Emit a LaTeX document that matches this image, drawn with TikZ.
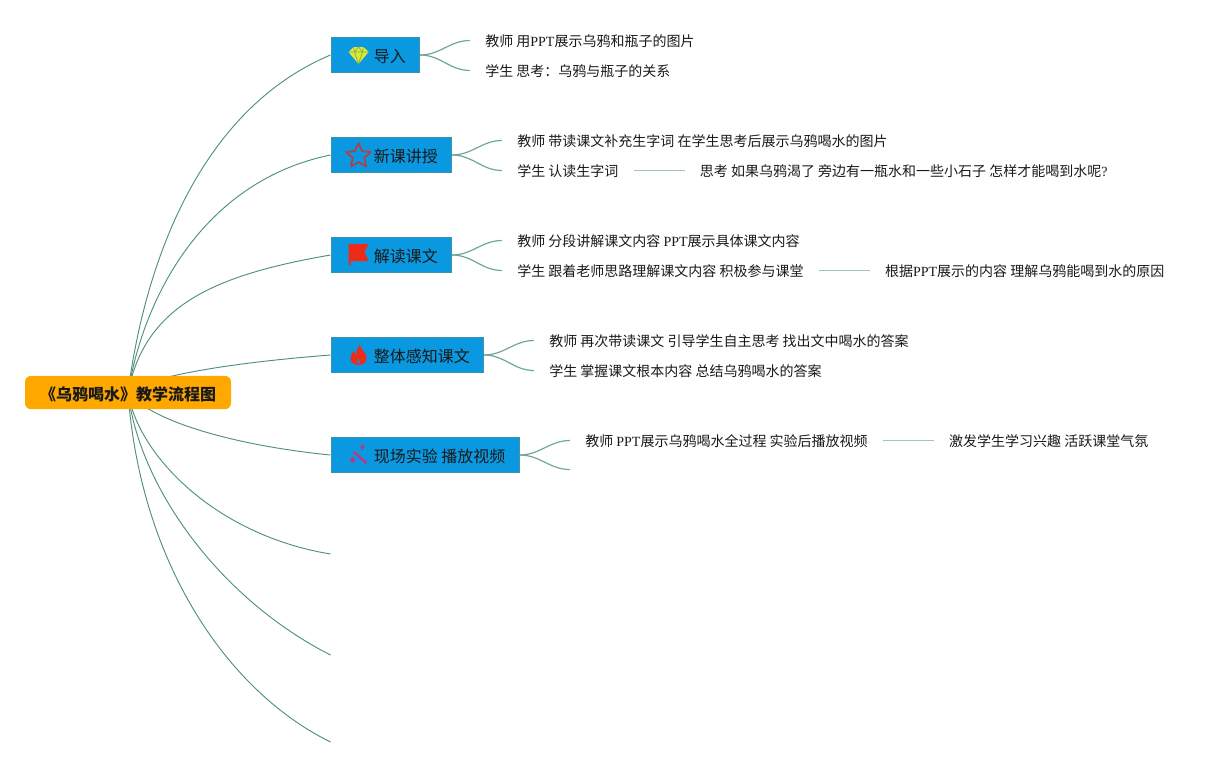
\documentclass[tikz,border=0pt]{standalone}
\usepackage{fontspec}
\setmainfont{Noto Sans CJK SC}
\newfontfamily\latinfont{Liberation Serif}
\newcommand{\ppt}{{\latinfont PPT}}
\usepackage{tikz}
\usetikzlibrary{positioning, backgrounds}
\definecolor{topicblue}{HTML}{0A98E0}
\definecolor{topicedge}{HTML}{3F93A8}
\definecolor{rootorange}{HTML}{FFA800}
\definecolor{linegreen}{HTML}{4F8F80}
\definecolor{branchgreen}{HTML}{6FA898}
\definecolor{linkgreen}{HTML}{9FC4BA}
\definecolor{gemyellow}{HTML}{DDE83A}
\definecolor{gemgreen}{HTML}{7FB04A}
\definecolor{starred}{HTML}{B0404A}
\definecolor{flagred}{HTML}{F02A18}
\definecolor{wandpink}{HTML}{C0357F}
\tikzset{
		root/.style={fill=rootorange,rounded corners=4.5pt,minimum width=154.5pt,minimum height=25pt,inner sep=0pt,text height=12.5pt,text depth=1pt,font=\fontsize{12}{14}\selectfont\bfseries,text=black!90},
		topic/.style={draw=topicedge,line width=0.6pt,fill=topicblue,anchor=west,minimum height=26.3pt,inner ysep=0pt,inner xsep=10.4pt,text height=12pt,text depth=1.2pt,font=\fontsize{12}{14}\selectfont,text=black!90,execute at begin node=\hspace{21.8pt}},
		leaf/.style={anchor=west,inner xsep=11.25pt,inner ysep=0pt,text height=10pt,text depth=1.5pt,font=\fontsize{10.5}{12}\selectfont,text=black!90},
		trunk/.style={draw=linegreen,line width=0.7pt},
		branch/.style={draw=branchgreen,line width=0.9pt},
		link/.style={draw=linkgreen,line width=0.8pt},
		gem icon/.pic={
			\fill[gemyellow] (-5,-8) -- (5,-8) -- (10,-3) -- (0,9) -- (-10,-3) -- cycle;
			\draw[gemgreen,line width=0.5pt] (-10,-3) -- (10,-3) (-5,-8) -- (-4,-3) -- (0,9) -- (4,-3) -- (5,-8) (-4,-3) -- (0,-8) -- (4,-3);
		},
		star icon/.pic={
			\draw[starred,line width=1.3pt,line join=round] (-90:13) -- (-54:6) -- (-18:13) -- (18:6) -- (54:13) -- (90:6) -- (126:13) -- (162:6) -- (198:13) -- (234:6) -- cycle;
		},
		flag icon/.pic={
			\fill[flagred] (-10,-11) -- (10,-11) -- (6,-3) -- (10,6) -- (-8,6) -- (-8,10) -- (-10,10) -- cycle;
		},
		flame icon/.pic={
			\fill[flagred] (1,-10) .. controls (2,-5) and (8,-3) .. (8,3) .. controls (8,8) and (4,10) .. (0,10) .. controls (-5,10) and (-8,7) .. (-8,3) .. controls (-8,0) and (-6,-2) .. (-5,-4) .. controls (-4,-2) and (-3,-1) .. (-2,-1) .. controls (-2,-5) and (-1,-8) .. (1,-10) -- cycle;
			\fill[topicblue!50!flagred] (0,3) .. controls (1,5) and (3,6) .. (2,9) -- (-2,9) .. controls (-3,6) and (-1,5) .. (0,3) -- cycle;
		},
		wand icon/.pic={
			\draw[wandpink,line width=1.8pt] (-5,-3) -- (8,8);
			\fill[wandpink] (4,-11) -- (6,-8) -- (4,-5) -- (2,-8) -- cycle;
			\fill[wandpink] (-6,2) -- (-3,5) -- (-6,8) -- (-9,5) -- cycle;
		}
	}

\begin{document}
\begin{tikzpicture}[x=0.75pt,y=-0.75pt]
	\useasboundingbox (0,0) rectangle (1224,768);

	\node[root] (flow) at (128,392.5) {《乌鸦喝水》教学流程图};

	\node[topic] (intro)   at (330.5,55)  {导入};
	\node[topic] (newtext) at (330.5,155) {新课讲授};
	\node[topic] (reading) at (330.5,255) {解读课文};
	\node[topic] (whole)   at (330.5,355) {整体感知课文};
	\node[topic] (trial)   at (330.5,455) {现场实验 播放视频};

	\pic at (358.5,55)  {gem icon};
	\pic at (358.5,156) {star icon};
	\pic at (358.5,255) {flag icon};
	\pic at (358.5,355) {flame icon};
	\pic at (358.5,455) {wand icon};

	\coordinate (free1) at (330.5,554);
	\coordinate (free2) at (330.5,655);
	\coordinate (free3) at (330.5,742);
	\coordinate (free4) at (570,469.5);

	\node[leaf] (intro1) at (470,40.5) {教师 用\ppt 展示乌鸦和瓶子的图片};
	\node[leaf] (intro2) at (470,70.5) {学生 思考：乌鸦与瓶子的关系};

	\node[leaf] (newtext1) at (502,140.5) {教师 带读课文补充生字词 在学生思考后展示乌鸦喝水的图片};
	\node[leaf] (newtext2) at (502,170.5) {学生 认读生字词};
	\node[leaf] (newtext3) [right=38.25pt of newtext2] {思考 如果乌鸦渴了 旁边有一瓶水和一些小石子 怎样才能喝到水呢{\latinfont ?}};

	\node[leaf] (reading1) at (502,240.5) {教师 分段讲解课文内容 \ppt 展示具体课文内容};
	\node[leaf] (reading2) at (502,270.5) {学生 跟着老师思路理解课文内容 积极参与课堂};
	\node[leaf] (reading3) [right=38.25pt of reading2] {根据\ppt 展示的内容 理解乌鸦能喝到水的原因};

	\node[leaf] (whole1) at (534,340.5) {教师 再次带读课文 引导学生自主思考 找出文中喝水的答案};
	\node[leaf] (whole2) at (534,370.5) {学生 掌握课文根本内容 总结乌鸦喝水的答案};

	\node[leaf] (trial1) at (570,440.5) {教师 \ppt 展示乌鸦喝水全过程 实验后播放视频};
	\node[leaf] (trial2) [right=38.25pt of trial1] {激发学生学习兴趣 活跃课堂气氛};

	\begin{scope}[on background layer]
		\path[trunk] (flow.center) .. controls (145,262) and (200,110) .. (intro.west);
		\path[trunk] (flow.center) .. controls (145,290) and (208,180) .. (newtext.west);
		\path[trunk] (flow.center) .. controls (145,305) and (215,275) .. (reading.west);
		\path[trunk] (flow.center) .. controls (150,375) and (240,362) .. (whole.west);
		\path[trunk] (flow.center) .. controls (150,420) and (230,445) .. (trial.west);
		\path[trunk] (flow.center) .. controls (138,455) and (215,535) .. (free1);
		\path[trunk] (flow.center) .. controls (140,490) and (222,600) .. (free2);
		\path[trunk] (flow.center) .. controls (140,560) and (225,690) .. (free3);
	\end{scope}

	\draw[branch] (intro.east) to[out=0,in=180] (intro1.west);
	\draw[branch] (intro.east) to[out=0,in=180] (intro2.west);
	\draw[branch] (newtext.east) to[out=0,in=180] (newtext1.west);
	\draw[branch] (newtext.east) to[out=0,in=180] (newtext2.west);
	\draw[branch] (reading.east) to[out=0,in=180] (reading1.west);
	\draw[branch] (reading.east) to[out=0,in=180] (reading2.west);
	\draw[branch] (whole.east) to[out=0,in=180] (whole1.west);
	\draw[branch] (whole.east) to[out=0,in=180] (whole2.west);
	\draw[branch] (trial.east) to[out=0,in=180] (trial1.west);
	\draw[branch] (trial.east) to[out=0,in=180] (free4);

	\draw[link] (newtext2) -- (newtext3);
	\draw[link] (reading2) -- (reading3);
	\draw[link] (trial1) -- (trial2);
\end{tikzpicture}
\end{document}
